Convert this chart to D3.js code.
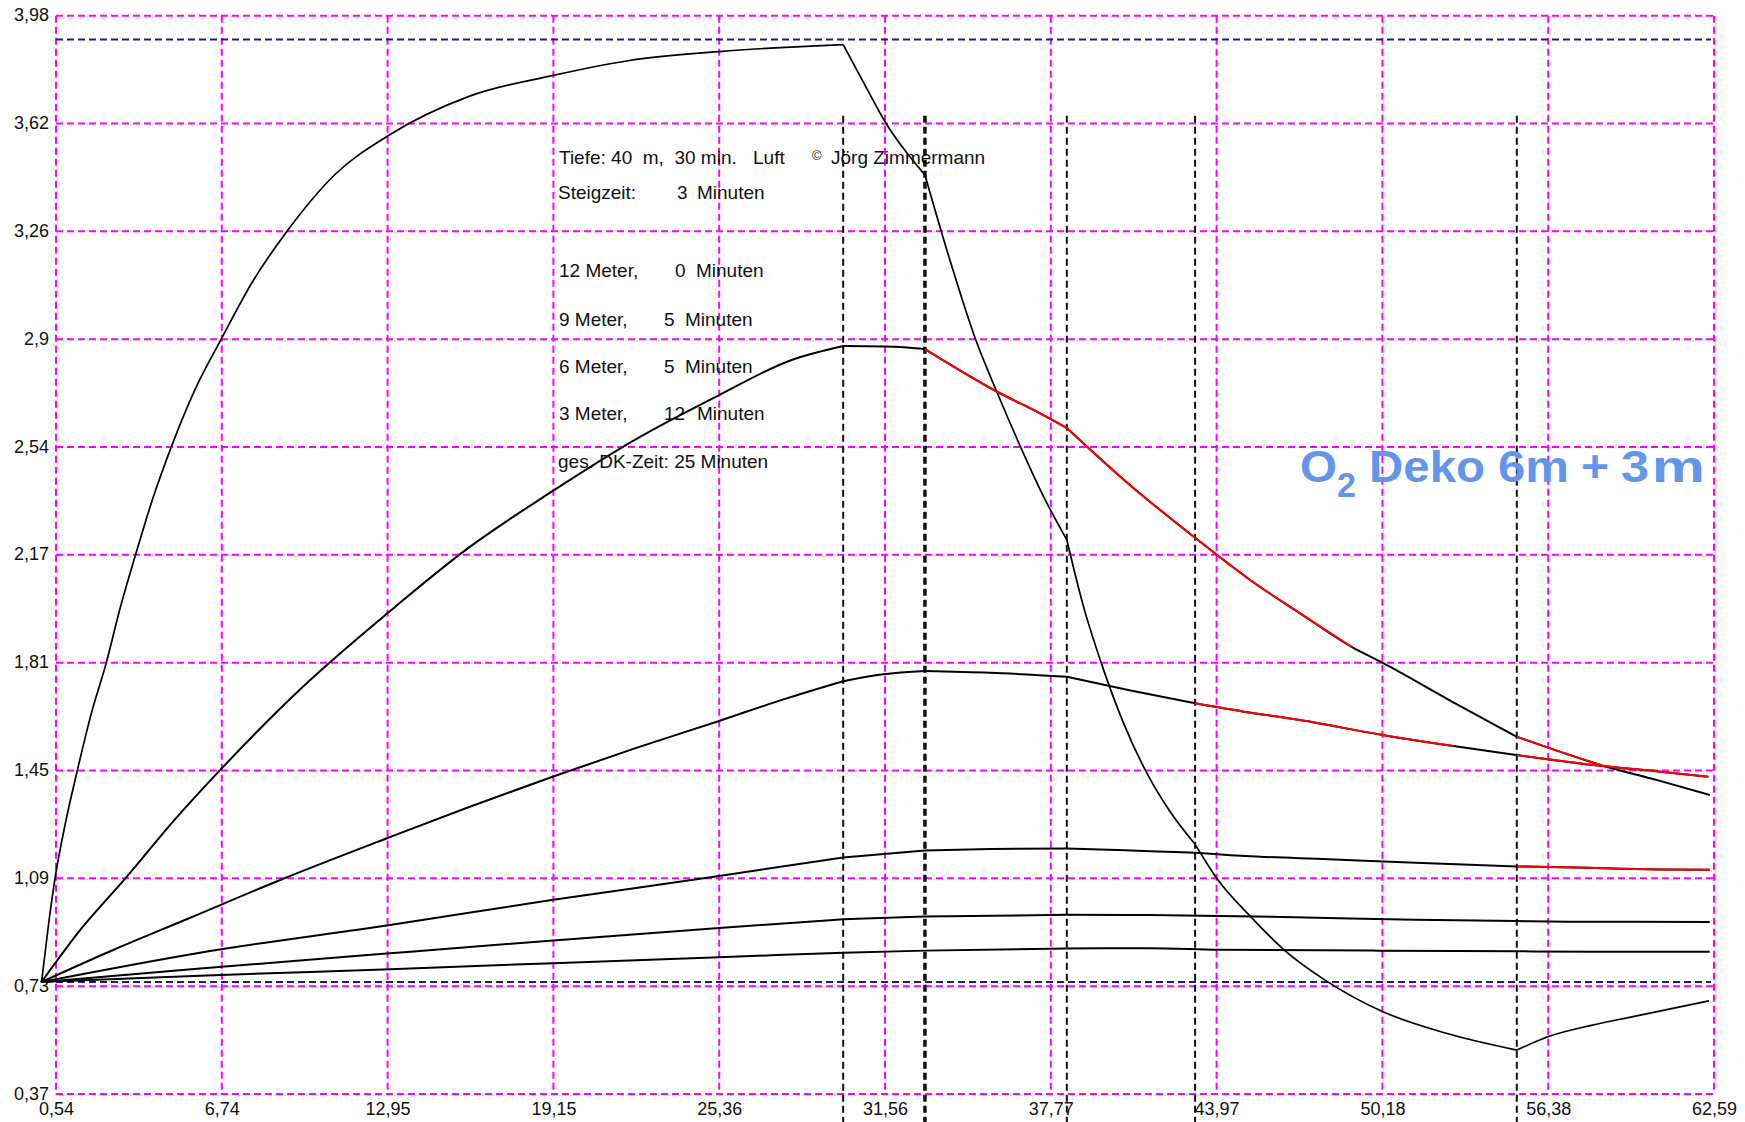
<!DOCTYPE html>
<html>
<head>
<meta charset="utf-8">
<script src="https://cdn.jsdelivr.net/npm/d3@7"></script>
<style>
  body { margin: 0; background: #fff; }
  svg { display: block; }
  text { font-family: "Liberation Sans", Arial, sans-serif; white-space: pre; }
</style>
</head>
<body>
<svg id="chart" width="1745" height="1122"></svg>
<script>
// Axis tick labels (German decimal comma)
const xTickLabels = ['0,54','6,74','12,95','19,15','25,36','31,56','37,77','43,97','50,18','56,38','62,59'];
const yTickLabels = ['0,37','0,73','1,09','1,45','1,81','2,17','2,54','2,9','3,26','3,62','3,98'];
const xDomain = [0.54, 62.59];
const yDomain = [0.37, 3.98];

// Dive profile: end of bottom time, end of ascent, end of 9 m, 6 m and 3 m stops (min)
const stageTimes = [30.0, 33.06, 38.37, 43.17, 55.21];
// Inspired N2 pressure at 40 m and at the surface (bar)
const ambientN2 = [3.90, 0.745];

// Tissue N2 pressure per compartment: [time (min), pressure (bar)]
const comp1 = [[0,0.745],[0.25,0.93],[0.5,1.09],[0.9,1.28],[1.33,1.45],[1.85,1.64],[2.41,1.81],[2.95,2.0],[3.5,2.17],[4.15,2.36],[4.87,2.54],[5.75,2.73],[6.74,2.9],[7.9,3.09],[9.2,3.26],[11,3.45],[13,3.58],[16,3.71],[19.15,3.78],[22,3.83],[25.36,3.86],[28,3.875],[30,3.883],[30.8,3.75],[31.6,3.62],[32.3,3.53],[33.06,3.447],[34,3.16],[34.94,2.9],[35.8,2.71],[36.62,2.54],[37.5,2.37],[38.37,2.225],[39.0,2.0],[39.67,1.81],[40.5,1.61],[41.33,1.45],[42.2,1.32],[43.17,1.206],[44.0,1.09],[45.25,0.964],[46.53,0.85],[48.02,0.752],[50.18,0.646],[52.5,0.575],[55.21,0.517],[56.45,0.564],[58,0.6],[59.56,0.629],[62.4,0.682]];
const comp2 = [[0,0.745],[1.5,0.925],[3.12,1.09],[5,1.29],[6.74,1.46],[9.8,1.735],[12.95,1.98],[16,2.2],[19.15,2.39],[22.2,2.56],[25.36,2.71],[28,2.825],[30,2.874],[31.9,2.872],[33.06,2.864],[35.87,2.716],[37.37,2.649],[38.37,2.6],[40.73,2.409],[43.17,2.232],[45.23,2.091],[47.1,1.979],[49.03,1.867],[50.18,1.814],[52.68,1.689],[55.21,1.566],[56.46,1.527],[58.4,1.47],[60.5,1.42],[62.44,1.371]];
const comp3 = [[0,0.745],[2.7,0.853],[5.43,0.955],[9,1.089],[12.95,1.227],[16,1.331],[19.15,1.433],[22.2,1.527],[25.36,1.619],[28,1.698],[30,1.752],[31.5,1.775],[33.06,1.786],[35.5,1.78],[38.37,1.767],[40.8,1.72],[43.17,1.678],[45,1.65],[47.1,1.622],[50.18,1.572],[52.84,1.535],[55.21,1.505],[58.4,1.468],[60.5,1.45],[62.38,1.432]];
const comp4 = [[0,0.745],[5.93,0.843],[13.04,0.936],[19.15,1.02],[25.36,1.1],[30,1.162],[33.06,1.185],[35.5,1.19],[38.37,1.192],[41.48,1.183],[43.17,1.178],[45.04,1.167],[48.16,1.156],[51.43,1.144],[55.21,1.132],[57.4,1.128],[60.5,1.122],[62.43,1.121]];
const comp5 = [[0,0.745],[5.93,0.79],[13.04,0.841],[19.15,0.884],[25.36,0.926],[30,0.955],[33.06,0.964],[38.37,0.97],[41.48,0.969],[46.9,0.962],[51.4,0.953],[55.21,0.949],[57.1,0.947],[62.43,0.946]];
const comp6 = [[0,0.745],[5.93,0.766],[13.04,0.788],[19.15,0.808],[25.36,0.828],[30,0.843],[33.06,0.85],[38.37,0.857],[41.48,0.858],[44.04,0.853],[50,0.85],[55.21,0.848],[58.1,0.846],[62.43,0.846]];

// Time spans in which a compartment is the leading one (drawn in red)
const leadSpans2 = [[33.06, 49.03], [55.21, 58.4]];
const leadSpans3 = [[43.17, 52.84], [55.21, 62.38]];
const leadSpans4 = [[55.21, 62.43]];

// Text of the info block
const infoHeader = ['Tiefe: 40  m,  30 min.', 'Luft', '\u00a9', 'J\u00f6rg Zimmermann'];
const ascentInfo = ['Steigzeit:', '3', 'Minuten'];
const stopDepths = ['12 Meter,', '9 Meter,', '6 Meter,', '3 Meter,'];
const stopMinutes = ['0', '5', '5', '12'];
const totalDeco = 'ges. DK-Zeit: 25 Minuten';
const titleParts = ['O', '2', 'Deko', '6m', '+', '3', 'm'];

const svg = d3.select('#chart');
const W = 1745, H = 1122;
const x = d3.scaleLinear().domain(xDomain).range([56, 1714]);
const y = d3.scaleLinear().domain(yDomain).range([1094, 15.7]);

const xTicks = d3.range(xTickLabels.length).map(i => xDomain[0] + i * (xDomain[1] - xDomain[0]) / (xTickLabels.length - 1));
const yTicks = d3.range(yTickLabels.length).map(i => yDomain[0] + i * (yDomain[1] - yDomain[0]) / (yTickLabels.length - 1));

// Magenta dashed grid
const grid = svg.append('g').attr('stroke', '#ff00ff').attr('stroke-width', 2).attr('stroke-dasharray', '7,4').attr('fill', 'none');
grid.selectAll('line.h').data(yTicks).join('line').attr('class', 'h')
  .attr('x1', x(xDomain[0])).attr('x2', x(xDomain[1]))
  .attr('y1', d => y(d)).attr('y2', d => y(d));
grid.selectAll('line.v').data(xTicks).join('line').attr('class', 'v')
  .attr('x1', d => x(d)).attr('x2', d => x(d))
  .attr('y1', y(yDomain[1])).attr('y2', y(yDomain[0]));

// Axes (labels only)
const xAxis = d3.axisBottom(x).tickValues(xTicks).tickFormat((d, i) => xTickLabels[i]).tickSize(0).tickPadding(0);
const gx = svg.append('g').attr('transform', `translate(0, ${y(yDomain[0]) + 8})`).call(xAxis);
gx.select('.domain').remove();
gx.selectAll('text').attr('font-size', 18).attr('fill', '#111').attr('dy', '0.71em')
  .style('font-family', '"Liberation Sans", Arial, sans-serif');

const yAxis = d3.axisLeft(y).tickValues(yTicks).tickFormat((d, i) => yTickLabels[i]).tickSize(0).tickPadding(0);
const gy = svg.append('g').attr('transform', `translate(${x(xDomain[0]) - 7}, 0)`).call(yAxis);
gy.select('.domain').remove();
gy.selectAll('text').attr('font-size', 18).attr('fill', '#111').attr('dy', '0.28em')
  .style('font-family', '"Liberation Sans", Arial, sans-serif');

// Inspired N2 reference lines
svg.append('g').selectAll('line').data(ambientN2).join('line')
  .attr('x1', x(xDomain[0])).attr('x2', x(xDomain[1]) - 3)
  .attr('y1', d => y(d)).attr('y2', d => y(d))
  .attr('stroke', '#1c1c7e').attr('stroke-width', 2).attr('stroke-dasharray', '7,4');

// Stage boundaries
svg.append('g').selectAll('line').data(stageTimes).join('line')
  .attr('x1', d => x(d)).attr('x2', d => x(d))
  .attr('y1', y(3.645)).attr('y2', H)
  .attr('stroke', '#111')
  .attr('stroke-width', (d, i) => i === 1 ? 3.5 : 2)
  .attr('stroke-dasharray', '7,4');

// Split a series into dive phases so the curve keeps its corners at stage changes
const eps = 1e-6;
function phases(points) {
  const cuts = stageTimes.filter(t => t > points[0][0] + eps && t < points[points.length - 1][0] - eps);
  const out = [];
  let cur = [];
  points.forEach(p => {
    cur.push(p);
    if (cuts.some(t => Math.abs(t - p[0]) < eps)) { out.push(cur); cur = [p]; }
  });
  if (cur.length > 1) out.push(cur);
  return out;
}

const line = d3.line().x(d => x(d[0])).y(d => y(d[1])).curve(d3.curveMonotoneX);
const comps = [comp1, comp2, comp3, comp4, comp5, comp6];
const curveG = svg.append('g').attr('fill', 'none').attr('stroke', '#000').attr('stroke-linejoin', 'round');
comps.forEach((comp, i) => {
  curveG.selectAll(null).data(phases(comp)).join('path')
    .attr('d', line).attr('stroke-width', i === 0 ? 1.7 : 2);
});

// Leading-compartment segments in red
const leads = [[comp2, leadSpans2], [comp3, leadSpans3], [comp4, leadSpans4]];
const redG = svg.append('g').attr('fill', 'none').attr('stroke', '#ff0000').attr('stroke-width', 2);
leads.forEach(([comp, spans]) => {
  spans.forEach(([a, b]) => {
    const seg = comp.filter(p => p[0] >= a - eps && p[0] <= b + eps);
    redG.selectAll(null).data(phases(seg)).join('path').attr('d', line);
  });
});

// Info block
const info = svg.append('g').attr('font-size', 19).attr('fill', '#111');
const row = (pieces, xs, yb) => pieces.forEach((t, i) => info.append('text').attr('x', xs[i]).attr('y', yb).text(t));
row([infoHeader[0], infoHeader[1]], [559, 753], 164);
info.append('text').attr('x', 812).attr('y', 160).attr('font-size', 13).text(infoHeader[2]);
info.append('text').attr('x', 831).attr('y', 164).text(infoHeader[3]);
row(ascentInfo, [558, 677, 697], 199);
const stopRowY = [277, 326, 373, 420];
const stopNumX = [675, 664, 664, 664];
const stopUnitX = [696, 685, 685, 697];
stopDepths.forEach((d, i) => row([d, stopMinutes[i], 'Minuten'], [559, stopNumX[i], stopUnitX[i]], stopRowY[i]));
row([totalDeco], [558], 468);

// Title: each word placed and stretched to its own width
const titleX = [1300, 1337, 1369, 1498, 1581, 1621, 1652];
const titleW = [37, 19, 116, 71, 28, 28, 53];
const titleG = svg.append('g').attr('font-size', 45).attr('font-weight', 'bold').attr('fill', '#6495ed');
titleParts.forEach((t, i) => {
  titleG.append('text')
    .attr('x', titleX[i]).attr('y', i === 1 ? 497 : 482)
    .attr('font-size', i === 1 ? 35 : null)
    .attr('textLength', titleW[i]).attr('lengthAdjust', 'spacingAndGlyphs')
    .text(t);
});
</script>
</body>
</html>
